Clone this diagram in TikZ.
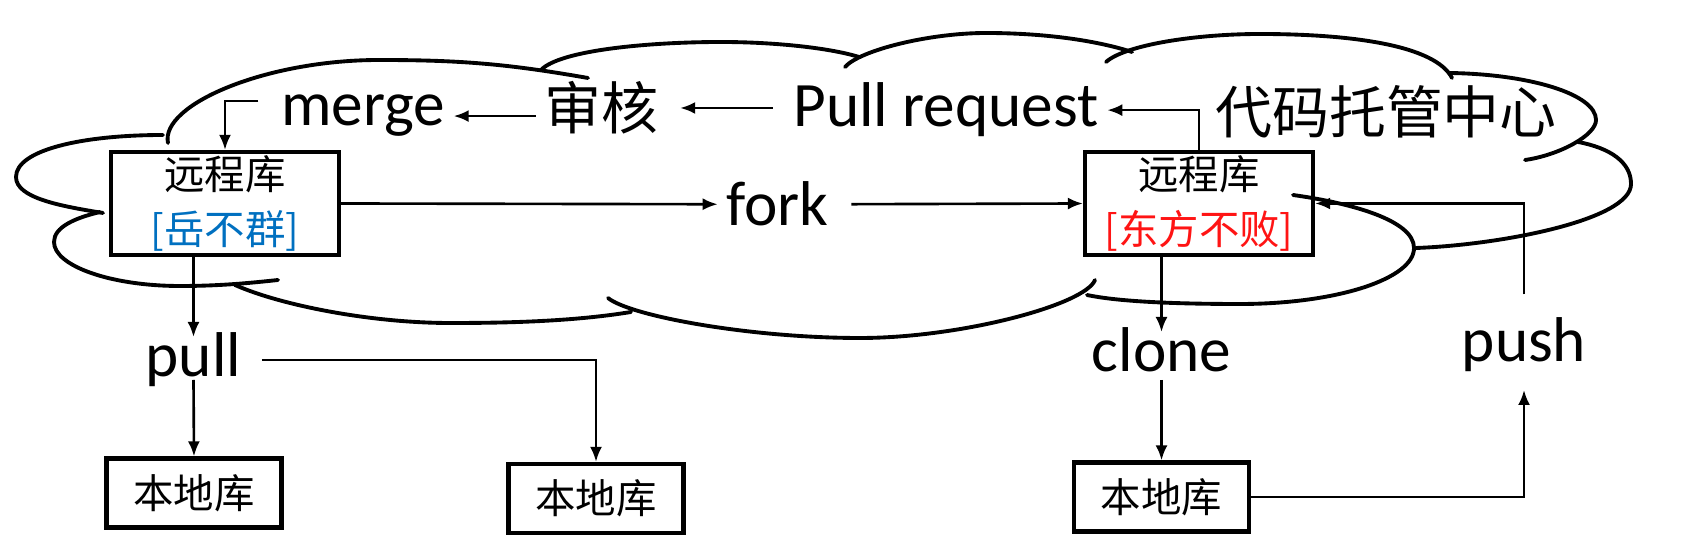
\documentclass[tikz,border=0pt]{standalone}
\usepackage{fontspec}
\setmainfont{Carlito}
\newfontfamily\cjk{Noto Sans CJK SC}
\usepackage{tikz}
\usetikzlibrary{arrows.meta, positioning, calc}
\definecolor{yuecolor}{RGB}{0,112,192}
\definecolor{dongcolor}{RGB}{255,20,20}

\begin{document}
\begin{tikzpicture}[
    repo/.style={draw, line width=1.2pt, minimum width=2.28cm, minimum height=1.03cm, inner sep=0pt, align=center, font=\cjk\fontsize{11.5}{15.5}\selectfont},
    localbox/.style={draw, line width=1.2pt, minimum width=1.75cm, minimum height=0.69cm, inner sep=0pt, font=\cjk\fontsize{11.5}{14}\selectfont},
    verb/.style={anchor=base, inner sep=0.8mm, font=\fontsize{18}{20}\selectfont},
    bigcjk/.style={inner sep=0.8mm, font=\cjk\fontsize{16.2}{18}\selectfont},
    arrow/.style={-{Latex[length=1.5mm, width=1.2mm]}, line width=0.75pt},
    cloudline/.style={line width=1.1pt, line cap=round}
]
    \useasboundingbox (0,0) rectangle (16.9,-5.38);

    % Cloud of the hosting centre
    \draw[cloudline] (1.63,-1.35) .. controls (0.82,-1.35) and (0.16,-1.50) .. (0.16,-1.77)
        .. controls (0.16,-1.98) and (0.60,-2.06) .. (1.03,-2.13);
    \draw[cloudline] (1.00,-2.12) .. controls (0.75,-2.18) and (0.54,-2.27) .. (0.54,-2.42)
        .. controls (0.54,-2.66) and (1.11,-2.86) .. (1.80,-2.86)
        .. controls (2.20,-2.86) and (2.50,-2.83) .. (2.78,-2.80);
    \draw[cloudline] (1.68,-1.43) .. controls (1.60,-1.05) and (2.65,-0.60) .. (3.79,-0.60)
        .. controls (4.61,-0.60) and (5.08,-0.64) .. (5.88,-0.78);
    \draw[cloudline] (5.41,-0.70) .. controls (5.60,-0.50) and (6.50,-0.42) .. (7.21,-0.42)
        .. controls (7.75,-0.42) and (8.30,-0.48) .. (8.59,-0.57);
    \draw[cloudline] (8.45,-0.67) .. controls (8.60,-0.50) and (9.30,-0.33) .. (9.86,-0.33)
        .. controls (10.42,-0.33) and (10.95,-0.40) .. (11.32,-0.52);
    \draw[cloudline] (11.06,-0.62) .. controls (11.25,-0.45) and (11.95,-0.34) .. (12.60,-0.34)
        .. controls (13.50,-0.34) and (14.35,-0.45) .. (14.52,-0.78);
    \draw[cloudline] (14.49,-0.73) .. controls (15.29,-0.74) and (15.96,-0.94) .. (15.96,-1.20)
        .. controls (15.96,-1.35) and (15.60,-1.55) .. (15.25,-1.60);
    \draw[cloudline] (15.78,-1.42) .. controls (16.10,-1.48) and (16.31,-1.62) .. (16.31,-1.84)
        .. controls (16.31,-2.20) and (15.00,-2.45) .. (14.16,-2.48);
    \draw[cloudline] (12.93,-1.95) .. controls (13.50,-2.03) and (14.14,-2.20) .. (14.14,-2.48)
        .. controls (14.14,-2.79) and (13.36,-3.04) .. (12.40,-3.04)
        .. controls (11.80,-3.04) and (11.20,-3.02) .. (10.87,-2.95);
    \draw[cloudline] (10.95,-2.80) .. controls (10.85,-3.05) and (9.60,-3.38) .. (8.60,-3.38)
        .. controls (7.50,-3.38) and (6.30,-3.16) .. (6.08,-2.98);
    \draw[cloudline] (6.31,-3.12) .. controls (5.70,-3.22) and (5.00,-3.23) .. (4.50,-3.23)
        .. controls (3.70,-3.23) and (2.80,-3.05) .. (2.35,-2.85);

    % Remote repositories
    \node[repo] (lremote) at (2.25,-2.035) {远程库\\{\color{yuecolor}[岳不群]}};
    \node[repo] (rremote) at (11.99,-2.035) {远程库\\{\color{dongcolor}[东方不败]}};

    % Local repositories
    \node[localbox] (llocal) at (1.94,-4.93) {本地库};
    \node[localbox] (mlocal) at (5.96,-4.985) {本地库};
    \node[localbox] (rlocal) at (11.615,-4.97) {本地库};

    % Labels
    \node[verb] (merge) at (3.63,-1.26) {merge};
    \node[bigcjk] (shenhe) at (6.015,-1.08) {审核};
    \node[verb] (pr) at (9.46,-1.27) {Pull request};
    \node[bigcjk] (center) at (13.86,-1.12) {代码托管中心};
    \node[verb] (fork) at (7.775,-2.26) {fork};
    \node[verb] (pull) at (1.935,-3.77) {pull};
    \node[verb] (clone) at (11.615,-3.72) {clone};
    \node[verb] (push) at (15.24,-3.62) {push};

    % Arrows
    \draw[arrow] (rremote.north) |- (pr.east);
    \draw[arrow, shorten <=1.2mm, shorten >=1.3mm] (shenhe.east -| pr.west) -- (shenhe.east);
    \draw[arrow] (shenhe.west |- merge.east) -- (merge.east);
    \draw[arrow, shorten <=1.4mm] ([yshift=1.5mm]merge.west) -| (lremote.north);
    \draw[arrow] (lremote.east) -- (fork.west);
    \draw[arrow, shorten <=1.4mm] (fork.east) -- (rremote.west);
    \draw[arrow] (pull |- lremote.south) -- ([yshift=4mm]pull.base);
    \draw[arrow] ([yshift=-0.3mm]pull.base) -- (llocal.north);
    \draw[arrow, shorten <=1.2mm] (pull.east) -| (mlocal.north);
    \draw[arrow] (clone |- rremote.south) -- ([yshift=4mm]clone.base);
    \draw[arrow] ([yshift=-0.8mm]clone.base) -- (rlocal.north);
    \draw[arrow] (rlocal.east) -| ([yshift=-2.8mm]push.base);
    \draw[arrow, shorten <=1.5mm] (push.north) |- (rremote.east);
\end{tikzpicture}
\end{document}
